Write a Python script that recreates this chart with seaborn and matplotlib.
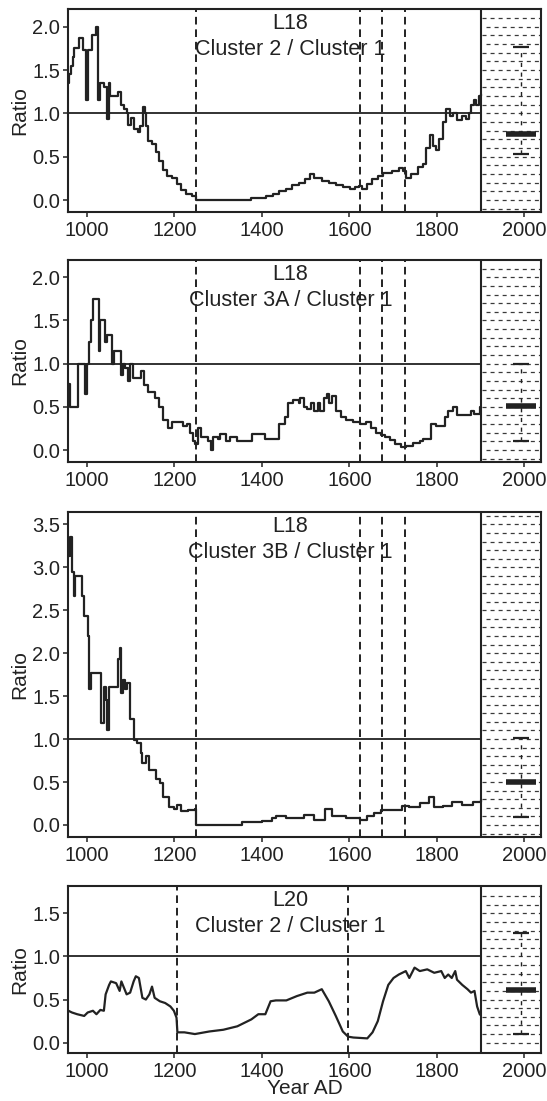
import numpy as np
import pandas as pd
import matplotlib
matplotlib.use("Agg")
import matplotlib.pyplot as plt
import seaborn as sns

# ---------------- data ----------------
years1 = [957, 960, 964, 968, 971, 982, 991, 998, 1003, 1012, 1020, 1026, 1030, 1039, 1047, 1050,
          1054, 1072, 1078, 1086, 1091, 1095, 1100, 1108, 1116, 1122, 1128, 1133, 1136, 1140,
          1150, 1157, 1166, 1175, 1183, 1195, 1206, 1215, 1227, 1240, 1250, 1376, 1410, 1425,
          1440, 1455, 1470, 1485, 1498, 1510, 1520, 1537, 1553, 1569, 1585, 1601, 1613, 1622,
          1628, 1640, 1652, 1665, 1678, 1697, 1713, 1722, 1730, 1741, 1757, 1768, 1776, 1784,
          1792, 1798, 1806, 1813, 1821, 1829, 1838, 1846, 1858, 1866, 1874, 1878, 1886, 1890,
          1896, 1900]
ratio1 = [1.35, 1.45, 1.55, 1.65, 1.75, 1.87, 1.73, 1.15, 1.73, 1.90, 2.00, 1.15, 1.35, 1.30, 0.93, 1.35,
          1.20, 1.25, 1.10, 1.05, 1.00, 0.87, 0.95, 0.82, 0.78, 0.85, 1.07, 1.00, 0.85, 0.68,
          0.65, 0.55, 0.45, 0.35, 0.28, 0.25, 0.18, 0.12, 0.07, 0.05, 0.00, 0.02, 0.05, 0.07,
          0.10, 0.13, 0.17, 0.20, 0.24, 0.30, 0.25, 0.22, 0.20, 0.17, 0.15, 0.13, 0.15, 0.16,
          0.13, 0.18, 0.24, 0.28, 0.31, 0.33, 0.37, 0.33, 0.25, 0.30, 0.38, 0.42, 0.60, 0.75,
          0.62, 0.58, 0.70, 0.90, 1.05, 0.97, 1.00, 0.92, 0.97, 0.93, 1.00, 1.10, 1.15, 1.10,
          1.20, 1.22]

years2 = [957, 961, 979, 996, 1001, 1004, 1009, 1013, 1027, 1031, 1041, 1046, 1058, 1062, 1077, 1082,
          1088, 1094, 1098, 1105, 1124, 1130, 1139, 1156, 1165, 1174, 1186, 1194, 1220, 1229,
          1236, 1242, 1247, 1253, 1262, 1278, 1284, 1288, 1300, 1304, 1318, 1327, 1343, 1378,
          1408, 1431, 1440, 1452, 1460, 1472, 1484, 1488, 1496, 1504, 1512, 1520, 1528, 1533,
          1541, 1549, 1553, 1561, 1569, 1581, 1593, 1609, 1625, 1637, 1649, 1661, 1673, 1681,
          1693, 1705, 1717, 1729, 1745, 1761, 1769, 1786, 1798, 1818, 1826, 1838, 1846, 1870,
          1878, 1886, 1898, 1900]
ratio2 = [0.77, 0.50, 1.00, 0.65, 1.00, 1.25, 1.50, 1.75, 1.15, 1.50, 1.25, 1.33, 1.00, 1.15, 0.87, 1.00,
          0.95, 0.80, 1.00, 0.83, 0.92, 0.75, 0.67, 0.60, 0.50, 0.35, 0.25, 0.32, 0.28, 0.30,
          0.20, 0.10, 0.07, 0.25, 0.15, 0.10, 0.00, 0.15, 0.13, 0.18, 0.10, 0.15, 0.10, 0.18,
          0.13, 0.13, 0.30, 0.38, 0.55, 0.58, 0.55, 0.60, 0.50, 0.48, 0.55, 0.45, 0.55, 0.45,
          0.60, 0.65, 0.55, 0.62, 0.45, 0.38, 0.35, 0.32, 0.30, 0.32, 0.25, 0.20, 0.17, 0.15,
          0.12, 0.07, 0.03, 0.05, 0.08, 0.10, 0.13, 0.30, 0.28, 0.38, 0.45, 0.50, 0.40, 0.40,
          0.45, 0.42, 0.50, 0.50]

years3 = [957, 962, 966, 970, 974, 990, 994, 1002, 1005, 1006, 1010, 1029, 1032, 1039, 1043, 1047,
          1051, 1067, 1071, 1075, 1079, 1083, 1087, 1091, 1099, 1107, 1115, 1123, 1127, 1135,
          1143, 1159, 1167, 1175, 1187, 1199, 1207, 1215, 1231, 1247, 1250, 1354, 1400, 1424,
          1432, 1456, 1496, 1520, 1545, 1561, 1593, 1625, 1641, 1657, 1673, 1697, 1721, 1737,
          1761, 1782, 1794, 1814, 1834, 1858, 1882, 1900]
ratio3 = [3.13, 3.35, 2.94, 2.67, 2.90, 2.67, 2.43, 2.20, 1.89, 1.58, 1.77, 1.77, 1.19, 1.61, 1.46, 1.11,
          1.61, 1.61, 1.93, 2.06, 1.54, 1.69, 1.58, 1.65, 1.23, 0.99, 0.95, 0.84, 0.72, 0.80,
          0.64, 0.53, 0.49, 0.33, 0.21, 0.19, 0.23, 0.16, 0.17, 0.19, 0.00, 0.04, 0.05, 0.08,
          0.10, 0.08, 0.12, 0.06, 0.19, 0.10, 0.08, 0.06, 0.10, 0.14, 0.17, 0.17, 0.22, 0.21,
          0.25, 0.33, 0.21, 0.22, 0.27, 0.23, 0.27, 0.29]

years4 = [958, 966, 978, 994, 1002, 1014, 1022, 1031, 1039, 1043, 1051, 1055, 1067, 1075, 1079, 1091,
          1099, 1107, 1112, 1119, 1127, 1135, 1143, 1149, 1155, 1167, 1179, 1191, 1199, 1205,
          1207, 1223, 1247, 1280, 1312, 1344, 1376, 1392, 1408, 1420, 1432, 1456, 1480, 1504,
          1520, 1537, 1553, 1569, 1585, 1597, 1609, 1641, 1653, 1665, 1677, 1689, 1701, 1713,
          1729, 1737, 1749, 1761, 1778, 1794, 1810, 1818, 1826, 1834, 1842, 1846, 1858, 1870,
          1878, 1886, 1892, 1898, 1900]
ratio4 = [0.37, 0.35, 0.33, 0.31, 0.35, 0.37, 0.33, 0.38, 0.37, 0.56, 0.67, 0.71, 0.69, 0.60, 0.71, 0.56,
          0.58, 0.71, 0.77, 0.75, 0.52, 0.50, 0.56, 0.65, 0.52, 0.48, 0.46, 0.42, 0.37, 0.29,
          0.12, 0.12, 0.10, 0.13, 0.15, 0.19, 0.27, 0.33, 0.33, 0.48, 0.49, 0.49, 0.54, 0.58,
          0.58, 0.62, 0.48, 0.31, 0.13, 0.07, 0.06, 0.05, 0.12, 0.25, 0.48, 0.67, 0.75, 0.79,
          0.83, 0.75, 0.87, 0.83, 0.85, 0.81, 0.83, 0.75, 0.79, 0.75, 0.83, 0.73, 0.67, 0.62,
          0.58, 0.60, 0.42, 0.33, 0.32]

site_labels = ["L18", "L18", "L18", "L20"]
pair_labels = ["Cluster 2 / Cluster 1", "Cluster 3A / Cluster 1",
               "Cluster 3B / Cluster 1", "Cluster 2 / Cluster 1"]
event_years = [[1250, 1624, 1674, 1728], [1250, 1624, 1674, 1728],
               [1250, 1624, 1674, 1728], [1206, 1596]]
# modern reference (top cap, median, bottom cap)
modern_top = [1.77, 1.00, 1.01, 1.27]
modern_median = [0.76, 0.51, 0.50, 0.61]
modern_bottom = [0.53, 0.10, 0.09, 0.10]
y_tick_max = [2.0, 2.0, 3.5, 1.5]
x_ticks = [1000, 1200, 1400, 1600, 1800, 2000]

# ---------------- style ----------------
sns.set_theme(style="ticks")
plt.rcParams["font.family"] = ["Liberation Sans", "DejaVu Sans"]
plt.rcParams["lines.scale_dashes"] = False

W, H = 547, 1101
fig = plt.figure(figsize=(W / 100, H / 100), dpi=100)

# axes boxes in pixels: (top, bottom)
boxes = [(9, 211.7), (260, 461.7), (512.3, 837), (886, 1052.7)]
ylims = [(-0.135, 2.204), (-0.135, 2.2), (-0.14, 3.64), (-0.116, 1.816)]
left_px, right_px = 68, 541
XMIN, XMAX, XBOX = 957, 2038, 1900
INK = "#222222"

series = [(years1, ratio1, "steps-post"), (years2, ratio2, "steps-post"),
          (years3, ratio3, "steps-post"), (years4, ratio4, "default")]

for i, ((top, bot), yl, (yrs, vals, ds)) in enumerate(zip(boxes, ylims, series)):
    ax = fig.add_axes([left_px / W, 1 - bot / H, (right_px - left_px) / W, (bot - top) / H])
    ax.set_xlim(XMIN, XMAX)
    ax.set_ylim(*yl)

    # hatched modern box
    ax.axvspan(XBOX, XMAX, facecolor="white", edgecolor="none", zorder=0)
    rows = np.arange(-0.1, yl[1], 0.1)
    for k, yy in enumerate(rows):
        if yy < yl[0] + 0.02 or yy > yl[1] - 0.02:
            continue
        ax.hlines(yy, XBOX + 3, XMAX - 3, colors="#3a3a3a", linewidth=0.9,
                  linestyles=[(2.9 * (k % 2), (2.9, 2.9))], zorder=1)
    ax.axvline(XBOX, color=INK, lw=1.5, zorder=4)

    # reference line at 1
    ax.hlines(1.0, XMIN, XBOX, colors=INK, linewidth=1.3, zorder=2)

    # event lines
    for ev in event_years[i]:
        ax.axvline(ev, color=INK, lw=1.4, linestyle=(0, (5.5, 3.5)), zorder=2)

    # series
    df = pd.DataFrame({"Year": yrs, "Ratio": vals})
    sns.lineplot(data=df, x="Year", y="Ratio", ax=ax, color=INK, lw=1.6,
                 drawstyle=ds, estimator=None, sort=False, zorder=3)

    # modern range marker
    cx = 1992
    ax.plot([cx, cx], [modern_bottom[i], modern_top[i]], color=INK, lw=1.0,
            linestyle=(0, (3, 4)), zorder=5)
    ax.hlines([modern_top[i], modern_bottom[i]], cx - 18, cx + 18, colors=INK,
              linewidth=1.6, zorder=5)
    ax.hlines(modern_median[i], cx - 35, cx + 35, colors=INK, linewidth=4.0, zorder=5)

    # titles
    ax.annotate(site_labels[i], xy=(1465, 1), xycoords=("data", "axes fraction"),
                xytext=(0, -10.5), textcoords="offset points", ha="center", va="center",
                fontsize=15.5, color=INK)
    ax.annotate(pair_labels[i], xy=(1465, 1), xycoords=("data", "axes fraction"),
                xytext=(0, -29), textcoords="offset points", ha="center", va="center",
                fontsize=15.5, color=INK)

    # axes formatting
    yt = np.arange(0, y_tick_max[i] + 0.01, 0.5)
    ax.set_yticks(yt)
    ax.set_yticklabels([f"{v:.1f}" for v in yt])
    ax.set_xticks(x_ticks)
    ax.set_xticklabels([str(v) for v in x_ticks])
    ax.tick_params(axis="both", direction="out", length=3.5, width=1.1, color=INK,
                   labelsize=14.5, labelcolor=INK, pad=2)
    ax.tick_params(axis="x", pad=3)
    for sp in ax.spines.values():
        sp.set_visible(True)
        sp.set_color(INK)
        sp.set_linewidth(1.5)
    ax.set_ylabel("Ratio", fontsize=15, color=INK, labelpad=2)
    if i == 3:
        ax.set_xlabel("Year AD", fontsize=15, color=INK, labelpad=-1)
    else:
        ax.set_xlabel("")

fig.savefig("out.png", dpi=100)
